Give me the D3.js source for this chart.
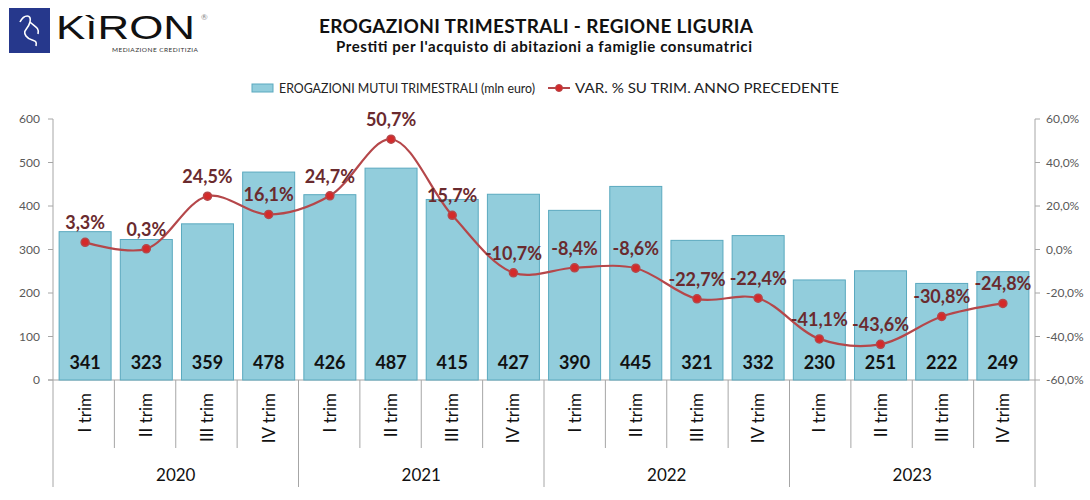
<!DOCTYPE html>
<html>
<head>
<meta charset="utf-8">
<script src="https://cdn.jsdelivr.net/npm/d3@7"></script>
<style>
  body { margin: 0; background: #fff; }
  svg { font-family: Lato, 'Open Sans', sans-serif; }
</style>
</head>
<body>
<svg id="chart" width="1090" height="500"></svg>
<script>
// Chart data
const years = ['2020', '2021', '2022', '2023'];
const quarters = ['I trim', 'II trim', 'III trim', 'IV trim'];
const erogazioni = [341, 323, 359, 478, 426, 487, 415, 427, 390, 445, 321, 332, 230, 251, 222, 249];
const variazioni = [3.3, 0.3, 24.5, 16.1, 24.7, 50.7, 15.7, -10.7, -8.4, -8.6, -22.7, -22.4, -41.1, -43.6, -30.8, -24.8];
const leftTicks = [0, 100, 200, 300, 400, 500, 600];
const rightTicks = [-60, -40, -20, 0, 20, 40, 60];

const color = {
  bar: '#92cddc',
  barStroke: '#5aa9bf',
  line: '#b5474a',
  marker: '#d42a2a',
  pct: '#6a2a2e',
  axis: '#a6a6a6',
  tick: '#595959',
};

const svg = d3.select('#chart');
const plot = { left: 53, right: 1035, top: 119, bottom: 380 };

const cats = d3.range(erogazioni.length);
const x = d3.scaleBand().domain(cats).range([plot.left, plot.right]).paddingInner(0.15).paddingOuter(0.1);
const yL = d3.scaleLinear().domain([0, 600]).range([plot.bottom, plot.top]);
const yR = d3.scaleLinear().domain([-60, 60]).range([plot.bottom, plot.top]);
const fmtPct = (v) => d3.format('.1f')(v).replace('.', ',').replace('−', '-') + '%';

// Logo
const logo = svg.append('g').attr('class', 'logo');
logo.append('rect').attr('x', 9).attr('y', 8).attr('width', 41).attr('height', 45).attr('fill', '#26388c');
logo.append('path')
  .attr('d', 'M20,22 C24,14 32,14 30,22 C28,30 22,30 26,36 C30,42 38,38 36,46 M30,22 C34,26 40,28 38,34')
  .attr('fill', 'none').attr('stroke', '#fff').attr('stroke-width', 1.6);
logo.append('text').attr('x', 56).attr('y', 39).attr('font-size', 33)
  .attr('font-family', "'Liberation Sans', Arial, sans-serif").attr('fill', '#111')
  .attr('textLength', 139).attr('lengthAdjust', 'spacingAndGlyphs').text('KìRON');
logo.append('text').attr('x', 112).attr('y', 52).attr('font-size', 6.5).attr('fill', '#333')
  .attr('textLength', 86).text('MEDIAZIONE CREDITIZIA');
logo.append('text').attr('x', 201).attr('y', 20).attr('font-size', 8).attr('fill', '#888').text('®');

// Titles
svg.append('text').attr('x', 536).attr('y', 33).attr('text-anchor', 'middle')
  .attr('font-size', 19).attr('font-weight', 'bold').attr('fill', '#111')
  .attr('textLength', 434).text('EROGAZIONI TRIMESTRALI - REGIONE LIGURIA');
svg.append('text').attr('x', 336).attr('y', 52)
  .attr('font-size', 15).attr('font-weight', 'bold').attr('fill', '#111')
  .attr('textLength', 416).text("Prestiti per l'acquisto di abitazioni a famiglie consumatrici");

// Legend
const legend = svg.append('g').attr('class', 'legend').attr('font-size', 12.5).attr('fill', '#222');
legend.append('rect').attr('x', 252).attr('y', 84).attr('width', 21).attr('height', 8)
  .attr('fill', color.bar).attr('stroke', color.barStroke);
legend.append('text').attr('x', 279).attr('y', 93).attr('textLength', 256)
  .attr('lengthAdjust', 'spacingAndGlyphs').text('EROGAZIONI MUTUI TRIMESTRALI (mln euro)');
legend.append('line').attr('x1', 548).attr('x2', 570).attr('y1', 88).attr('y2', 88)
  .attr('stroke', color.line).attr('stroke-width', 2);
legend.append('circle').attr('cx', 559).attr('cy', 88).attr('r', 3.5).attr('fill', color.marker).attr('stroke', color.line);
legend.append('text').attr('x', 575).attr('y', 93).attr('textLength', 264)
  .attr('lengthAdjust', 'spacingAndGlyphs').text('VAR. % SU TRIM. ANNO PRECEDENTE');

// Axes
const axes = svg.append('g').attr('class', 'axes');
axes.append('line').attr('x1', plot.left).attr('x2', plot.left).attr('y1', plot.top).attr('y2', 487)
  .attr('stroke', color.axis);
axes.append('line').attr('x1', plot.right).attr('x2', plot.right).attr('y1', plot.top).attr('y2', 487)
  .attr('stroke', color.axis);

axes.selectAll('g.ltick').data(leftTicks).join('g').attr('class', 'ltick')
  .attr('transform', (d) => `translate(${plot.left},${yL(d)})`)
  .call((g) => g.append('line').attr('x1', -5).attr('x2', 0).attr('stroke', color.axis))
  .call((g) => g.append('text').attr('x', -13).attr('dy', '0.35em').attr('text-anchor', 'end')
    .attr('font-size', 12).attr('fill', color.tick).text((d) => d));

axes.selectAll('g.rtick').data(rightTicks).join('g').attr('class', 'rtick')
  .attr('transform', (d) => `translate(${plot.right},${yR(d)})`)
  .call((g) => g.append('line').attr('x1', 0).attr('x2', 5).attr('stroke', color.axis))
  .call((g) => g.append('text').attr('x', 11).attr('dy', '0.35em')
    .attr('font-size', 12).attr('fill', color.tick).text((d) => fmtPct(d)));

// Bars
svg.append('g').attr('class', 'bars').selectAll('rect').data(erogazioni).join('rect')
  .attr('x', (d, i) => x(i))
  .attr('y', (d) => yL(d))
  .attr('width', x.bandwidth())
  .attr('height', (d) => yL(0) - yL(d))
  .attr('fill', color.bar)
  .attr('stroke', color.barStroke)
  .attr('stroke-width', 1);

// Baseline
axes.append('line').attr('x1', plot.left - 5).attr('x2', plot.right).attr('y1', plot.bottom).attr('y2', plot.bottom)
  .attr('stroke', color.axis);

// Category axis: quarter separators + year separators
const step = (plot.right - plot.left) / cats.length;
const sep = svg.append('g').attr('class', 'catAxis');
cats.forEach((i) => {
  if (i === 0) return;
  const xx = plot.left + i * step;
  sep.append('line').attr('x1', xx).attr('x2', xx).attr('y1', plot.bottom)
    .attr('y2', i % 4 === 0 ? 487 : 448).attr('stroke', color.axis);
});
sep.selectAll('text.q').data(cats).join('text').attr('class', 'q')
  .attr('transform', (d) => `translate(${x(d) + x.bandwidth() / 2 + 6},393) rotate(-90)`)
  .attr('text-anchor', 'end').attr('font-size', 17).attr('fill', '#111')
  .text((d) => quarters[d % 4]);
sep.selectAll('text.y').data(years).join('text').attr('class', 'y')
  .attr('x', (d, i) => plot.left + (i * 4 + 2) * step)
  .attr('y', 481).attr('text-anchor', 'middle').attr('font-size', 17).attr('fill', '#111')
  .text((d) => d);

// Value labels inside bars
svg.append('g').attr('class', 'valueText').selectAll('text').data(erogazioni).join('text')
  .attr('x', (d, i) => x(i) + x.bandwidth() / 2)
  .attr('y', 369).attr('text-anchor', 'middle')
  .attr('font-size', 18).attr('font-weight', 'bold').attr('fill', '#111')
  .text((d) => d);

// Variation line
const pts = variazioni.map((v, i) => [x(i) + x.bandwidth() / 2, yR(v)]);
svg.append('path').attr('class', 'varLine')
  .attr('d', d3.line().curve(d3.curveCatmullRom.alpha(0.5))(pts))
  .attr('fill', 'none').attr('stroke', color.line).attr('stroke-width', 2.2);
svg.append('g').attr('class', 'markers').selectAll('circle').data(pts).join('circle')
  .attr('cx', (d) => d[0]).attr('cy', (d) => d[1]).attr('r', 4)
  .attr('fill', color.marker).attr('stroke', color.line).attr('stroke-width', 1.5);

svg.append('g').attr('class', 'pctText').selectAll('text').data(variazioni).join('text')
  .attr('x', (d, i) => x(i) + x.bandwidth() / 2)
  .attr('y', (d) => yR(d) - 13).attr('text-anchor', 'middle')
  .attr('font-size', 18).attr('font-weight', 'bold').attr('fill', color.pct)
  .text((d) => fmtPct(d));
</script>
</body>
</html>
